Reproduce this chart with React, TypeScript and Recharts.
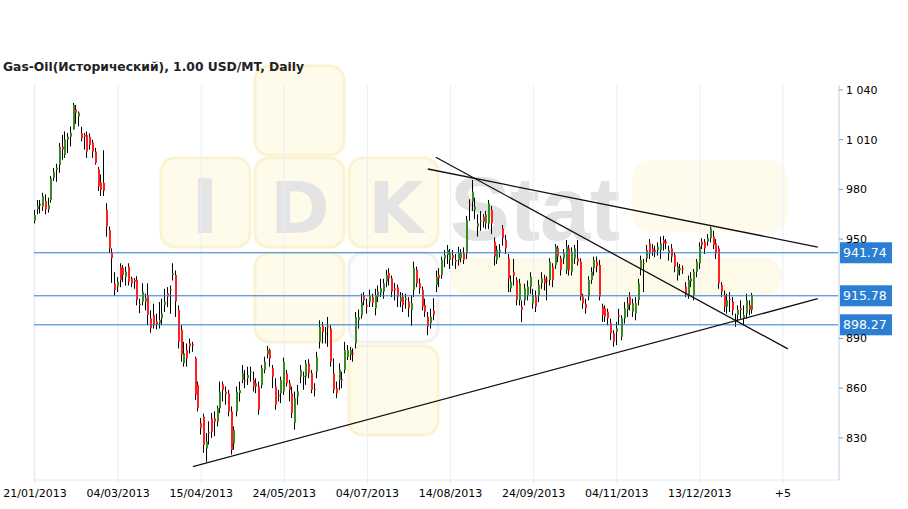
import React from 'react';
import { ComposedChart, Bar, XAxis, YAxis, CartesianGrid, ReferenceLine } from 'recharts';

const openP = [
  961, 968, 971, 969.6, 973, 968, 973.6, 987, 991.7, 994.7,
  1005.8, 1000.8, 1010, 1011.8, 1016.3, 1028.3, 1024, 1013.8, 1012.8, 1012.8,
  1011.8, 1008.4, 1002.8, 992, 984, 984, 967.6, 955.5, 941.8, 923,
  921.3, 933.4, 932.4, 927.3, 933.4, 926.3, 925.3, 925.3, 910.8, 912.3,
  912.3, 916.3, 902.2, 904.2, 900.2, 899.2, 902.2, 910.3, 917.3, 919.6,
  928.4, 928.4, 907.2, 895.2, 875.1, 883.1, 887.1, 886.5, 878.1, 862,
  838.8, 842.8, 823.7, 833.4, 841.8, 841.8, 839.8, 847.9, 862.4, 857.9,
  856.9, 845.9, 826.7, 845.9, 857, 865, 864.7, 866, 869.7, 865,
  863, 861, 862, 871, 880.5, 883, 872, 860.9, 855.9, 857,
  858, 869, 863, 857, 839, 855, 867, 867.5, 867, 875,
  869, 859.5, 870, 888, 897.5, 892.5, 897, 896, 869, 860,
  865, 865.4, 871, 879, 880, 881.3, 887, 901, 904, 916,
  910.3, 912, 915, 908.2, 915.3, 917.3, 918.3, 924.3, 929.4, 926.3,
  920.3, 920.9, 912.3, 915.3, 913.3, 912.3, 907.2, 919.3, 931.4, 923.3,
  919.3, 910.2, 903.2, 899.2, 906.8, 922.3, 928.3, 928.3, 938.4, 940.4,
  937.4, 940.4, 937.4, 937.4, 938.4, 941.4, 941.4, 970.9, 972.6, 967.6,
  957.5, 960.9, 963.6, 959.5, 959.5, 967.6, 948.5, 937.4, 942.4, 956.5,
  949.5, 938.4, 920.3, 930, 925.3, 913.2, 909.2, 913.2, 916.3, 921.3,
  911.2, 915.3, 916.3, 923.3, 926.3, 925.5, 925.3, 933.4, 934.4, 944.4,
  938.4, 938.4, 931.3, 944.4, 930.3, 938.4, 938.4, 936.4, 915.3, 910.8,
  915.3, 925.3, 932.4, 936.4, 934.4, 909.2, 908.2, 906.2, 899.2, 893.1,
  894.1, 904.2, 891.1, 902.2, 907.2, 915.3, 906.2, 905.2, 913.2, 932.4,
  935.5, 938.4, 947.4, 944.4, 943.4, 943.4, 943.4, 949.4, 948.4, 941.4,
  944.4, 940.4, 928.3, 932.4, 932.4, 921.3, 916.3, 924.3, 916.3, 930.3,
  935.4, 948.4, 948.4, 948.4, 950.5, 951.5, 947.4, 944.4, 922.3, 916.3,
  909.2, 913.9, 912.2, 901.3, 904.2, 908.2, 902.2, 905.2, 910.2, 907.2,
];

const highP = [
  967.6, 973.6, 973.6, 978, 977, 975, 988, 993, 995.5, 1008,
  1012.8, 1015, 1014, 1018, 1032.2, 1031, 1027, 1017.8, 1014, 1015,
  1013.8, 1010, 1005, 993.5, 989, 1003.6, 971.6, 957.5, 944.4, 930,
  927, 935.4, 934.4, 933.4, 935.4, 927.3, 926.5, 927.6, 914, 923.3,
  917, 923.3, 907, 911, 905, 912, 914, 920, 921, 922,
  935.4, 931, 910, 898, 888, 887, 890, 888, 879, 864,
  842, 844.6, 833, 840, 845, 846, 849.5, 864, 864, 861,
  859, 849, 837, 861, 864, 874, 871, 873, 873, 870,
  866, 864, 874, 879, 885.5, 884, 874, 866, 859, 867,
  878.5, 871, 865, 861, 858, 862, 874, 870, 877, 877.5,
  871, 863, 882, 901, 900, 897, 903, 898, 878, 864,
  875, 870, 888, 886, 885, 884, 906, 907.5, 917, 918,
  914, 919.5, 917, 920, 922, 926, 926, 931.4, 932.4, 928,
  923.5, 922.5, 918, 917.5, 917, 915, 916.3, 936.4, 933.4, 926.3,
  921.3, 914, 906, 908, 914.3, 931, 932.4, 939.4, 943.4, 946.4,
  944, 943.4, 941, 945.4, 944, 945, 964, 974, 985.7, 975,
  965, 967, 965, 967, 973.6, 970, 951, 946, 947, 958.5,
  952.5, 941, 928, 938, 927, 926, 913, 923, 925, 930,
  920, 919, 925.5, 930, 928.5, 927.5, 938.4, 935.4, 947, 946,
  940, 944, 949.4, 946.5, 945, 946.5, 949.4, 938.4, 917, 914,
  927.5, 933, 939.4, 939.5, 937.4, 911, 910, 908, 902, 895,
  900, 908, 904, 912, 915, 918, 914, 915, 926, 940,
  938, 946.5, 950, 947, 946, 948, 951.5, 952, 950, 946,
  947, 942, 936, 935, 934, 924, 928, 930, 932, 938,
  948, 950.5, 950, 953, 957.5, 955, 950, 946, 924, 919,
  917, 918, 915, 905, 910, 913, 910, 917, 913, 917.5,
];

const lowP = [
  959.5, 965, 965.5, 967, 965, 966, 972, 985, 984.6, 990,
  998, 999, 1002, 1006, 1016, 1019.5, 1018, 1009, 1004, 999,
  1004, 999, 995, 979, 976, 976, 951.5, 941.5, 923.6, 916,
  918, 921, 924, 922, 922, 921, 920, 910, 905.3, 910,
  907, 898, 893.5, 896, 895.5, 896, 898, 906, 909, 905,
  925, 903, 884, 876, 873, 873, 881, 882, 853, 846,
  832, 821, 815.5, 826, 830, 831, 837, 845, 852, 850,
  843, 820, 823, 843, 852, 863, 860, 862, 864, 858,
  857, 844, 860, 869, 878, 873, 860, 847, 852, 851,
  856, 861, 852, 842, 835, 850, 863, 859, 862, 866,
  857, 855, 866, 884, 887, 887, 885, 873, 857, 854,
  859, 860, 869, 877, 877, 876, 884, 896, 902, 910,
  905, 909, 909, 904, 912, 915, 914, 921, 922, 915,
  913, 909, 909, 906, 908, 903, 897.6, 915, 921, 917,
  907, 903, 892, 896, 901, 918, 921, 926, 933, 935,
  932, 934, 932, 934, 936, 935, 938, 961, 967, 962,
  951.5, 955, 957, 956, 956, 953, 934, 935, 939, 946,
  941, 918, 918, 922, 910, 910, 900, 910, 913, 917,
  908, 906, 912, 920, 919, 913, 922, 921, 932, 936,
  928, 935, 929, 928, 928, 935, 934, 913, 908, 905,
  913, 923, 928, 930, 913, 900, 900, 898, 889, 885,
  886, 898, 889, 899, 903, 907, 903, 901, 910, 928,
  918, 936, 938, 940, 939, 940, 938, 943, 944, 937,
  936, 930, 925, 928, 929, 915, 914, 921, 913, 927,
  932, 944, 941, 946, 948, 944, 938, 920, 915, 906,
  905, 906, 904, 897, 900, 902, 898, 902, 904, 905,
];

const closeP = [
  964.5, 970, 971, 976, 968, 970.6, 986.7, 990.7, 993, 1005.8,
  1004, 1010, 1011.8, 1014.2, 1031, 1026.3, 1026.3, 1010.8, 1011.8, 1002.8,
  1006.8, 1002.8, 996, 981.7, 979.6, 979.2, 957.5, 944.4, 938.4, 919.3,
  924.3, 925.3, 928.4, 930.4, 924.3, 923.3, 924.3, 913.3, 910.2, 918.3,
  914.3, 904.2, 896.2, 898.2, 898.2, 901.2, 905.2, 912.3, 915.3, 919.3,
  929.4, 912.3, 888.1, 880.1, 881.1, 878.1, 885.1, 885.7, 856, 848,
  835.8, 825.7, 827.7, 832.8, 833.8, 839.8, 847.9, 857.9, 859, 856.4,
  845.9, 822.7, 834.8, 857.9, 858.9, 868.9, 864.3, 868, 870.2, 861,
  861, 847, 872, 876, 883, 878, 867, 849.9, 855.3, 865,
  876, 863, 859, 845, 854, 858, 871, 867, 875, 869,
  859, 859, 879, 897, 894, 893, 897.3, 876, 859, 857,
  871.4, 864.6, 883, 883, 883, 880.5, 903, 903, 912, 913,
  909.3, 916, 911.6, 916.3, 918.3, 920.3, 923.3, 928.4, 926.3, 918.3,
  919.3, 915.3, 914.8, 910.2, 914.3, 908.2, 911.3, 932.4, 923.3, 920.3,
  909.2, 906.2, 897.2, 903.2, 904.2, 927.3, 926.3, 937.4, 940.4, 943.4,
  941.4, 938.4, 936.4, 941.4, 941.4, 937.4, 961.5, 970.5, 978.6, 969.6,
  959.5, 961.2, 960.5, 964.6, 971.6, 959.5, 939.4, 943.4, 943.4, 950.5,
  944.4, 926.3, 924.3, 928, 913.2, 923.3, 907.2, 920.3, 921.3, 927.3,
  916.3, 909.2, 922.3, 926.3, 923.3, 925, 936.4, 925.3, 945.4, 939.4,
  931.3, 941.4, 945.4, 931.3, 942.4, 944.4, 936.4, 915.3, 911.2, 908.2,
  925.3, 930.3, 937.4, 933.4, 915.3, 904.2, 903.2, 902.2, 893.1, 888.1,
  896.1, 903.2, 902.2, 908.2, 911.2, 910.2, 911.2, 911.2, 923.3, 937.4,
  935.2, 943.4, 941.4, 942.4, 942.4, 945.4, 947.4, 947.4, 947.4, 943.4,
  939.4, 933.4, 933.4, 931.3, 932.2, 917.3, 925.3, 926.3, 930.3, 936.4,
  945.4, 946.4, 944.4, 950.5, 956.5, 946.4, 941.4, 923.3, 918.3, 909.2,
  913.2, 913.7, 907.2, 901.1, 907.2, 907.2, 904.2, 913.2, 907.2, 916.3,
];

const xTickIdx = [0, 30, 60, 90, 120, 150, 180, 210, 240, 270];
const xTickLabels = ['21/01/2013', '04/03/2013', '15/04/2013', '24/05/2013', '04/07/2013', '14/08/2013', '24/09/2013', '04/11/2013', '13/12/2013', '+5'];
const yTicks = [830, 860, 890, 950, 980, 1010, 1040];
const levels = [941.74, 915.78, 898.27];
const levelLabels = ['941.74', '915.78', '898.27'];
const trendStart = [[144.7, 999.4], [141.8, 992.3], [57.0, 812.7]];
const trendEnd = [[271.8, 883.7], [282.6, 945.2], [282.6, 914.0]];

const data = openP.map((o, i) => ({ i, o, h: highP[i], l: lowP[i], c: closeP[i], hl: [lowP[i], highP[i]] }));

const GREEN = '#3a8a22';
const RED = '#ff2020';
const FONT = '"DejaVu Sans", Verdana, sans-serif';

const Candle = (props: any) => {
  const { x, y, width, height, payload } = props;
  if (!payload || height == null) return null;
  const { o, h, l, c } = payload;
  const cx = Math.round(x + width / 2);
  const ppu = height / (h - l);
  const yo = y + (h - o) * ppu;
  const yc = y + (h - c) * ppu;
  const top = Math.min(yo, yc);
  const bh = Math.max(1, Math.abs(yc - yo));
  const color = c > o ? GREEN : c < o ? RED : '#000';
  return (
    <g>
      <rect x={cx - 1} y={y} width={1} height={height} fill="#000" />
      <rect x={cx - 1} y={top} width={2} height={bh} fill={color} />
    </g>
  );
};

const PriceTag = (props: any) => {
  const { viewBox, text } = props;
  if (!viewBox) return null;
  const { x, y, width } = viewBox;
  const left = x + width + 1;
  return (
    <g>
      <rect x={left} y={y - 10.5} width={52} height={21} fill="#2b7ed2" />
      <text x={left + 3} y={y + 4.5} fill="#fff" fontSize={12.5} fontFamily={FONT}>{text}</text>
    </g>
  );
};

const fmtY = (v: number) => String(v).replace(/\B(?=(\d{3})+(?!\d))/g, ' ');

const sq = { fill: '#fefbea', stroke: '#faf3d2', strokeWidth: 3 };

const Watermark = () => (
  <svg width={908} height={509} style={{ position: 'absolute', left: 0, top: 0 }}>
    <rect x={255} y={66} width={89} height={89} rx={14} {...sq} />
    <rect x={161} y={158} width={89} height={89} rx={14} {...sq} />
    <rect x={255} y={158} width={89} height={89} rx={14} {...sq} />
    <rect x={349} y={158} width={89} height={89} rx={14} {...sq} />
    <rect x={632} y={160} width={156} height={72} rx={20} fill="#fefbec" />
    <rect x={255} y={253} width={89} height={89} rx={14} {...sq} />
    <rect x={349} y={253} width={89} height={89} rx={14} fill="#fdfdfd" stroke="#f1f1f1" strokeWidth={3} />
    <rect x={450} y={258} width={332} height={38} rx={18} fill="#fefaea" />
    <rect x={349} y={346} width={89} height={89} rx={14} {...sq} />
    <g fill="#e4e4e4" fontFamily='"DejaVu Sans", sans-serif' fontWeight="bold" textAnchor="middle">
      <text x={205} y={233} fontSize={74}>I</text>
      <text x={300} y={233} fontSize={72}>D</text>
      <text x={396} y={233} fontSize={72}>K</text>
    </g>
    <text x={450} y={240} fontSize={90} fontFamily='"Liberation Sans", Arial, sans-serif' fontWeight="bold" fill="#e2e2e2">Stat</text>
  </svg>
);

export default function App() {
  return (
    <div style={{ position: 'absolute', left: 0, top: 0, width: 908, height: 509, background: '#fff', overflow: 'hidden' }}>
      <Watermark />
      <div style={{ position: 'absolute', left: 3, top: 60, fontFamily: FONT, fontWeight: 'bold', fontSize: 12.3, color: '#222', whiteSpace: 'nowrap' }}>
        Gas-Oil(Исторический), 1.00 USD/MT, Daily
      </div>
      <div style={{ position: 'absolute', left: 0, top: 0 }}>
        <ComposedChart width={908} height={509} data={data} margin={{ top: 85, right: 0, bottom: 0, left: 34 }}>
          <CartesianGrid horizontal={false} stroke="#e8eff7" />
          <XAxis
            dataKey="i"
            type="number"
            domain={[-0.36, 290.25]}
            allowDataOverflow
            ticks={xTickIdx}
            interval={0}
            tickFormatter={(v: number) => xTickLabels[xTickIdx.indexOf(v)] ?? ''}
            height={29}
            axisLine={{ stroke: '#dde8f3' }}
            tickLine={{ stroke: '#dde8f3' }}
            tickSize={3}
            tickMargin={6}
            tick={{ fill: '#000', fontSize: 11, fontFamily: FONT }}
          />
          <YAxis
            orientation="right"
            type="number"
            domain={[804.6, 1043]}
            allowDataOverflow
            ticks={yTicks}
            interval={0}
            width={69}
            tickFormatter={fmtY}
            axisLine={{ stroke: '#dae7f3', strokeWidth: 2 }}
            tickLine={{ stroke: '#999' }}
            tickSize={4}
            tickMargin={3}
            tick={{ fill: '#000', fontSize: 11, fontFamily: FONT }}
          />
          <Bar dataKey="hl" barSize={3} isAnimationActive={false} shape={(p: any) => <Candle {...p} />} />
          {levels.map((lv, k) => (
            <ReferenceLine
              key={'lv' + k}
              y={lv}
              stroke="#2a7bd0"
              strokeWidth={1}
              label={(p: any) => <PriceTag {...p} text={levelLabels[k]} />}
            />
          ))}
          {trendStart.map((s, k) => (
            <ReferenceLine
              key={'tr' + k}
              segment={[{ x: s[0], y: s[1] }, { x: trendEnd[k][0], y: trendEnd[k][1] }]}
              stroke="#111"
              strokeWidth={1.3}
              ifOverflow="visible"
            />
          ))}
        </ComposedChart>
      </div>
    </div>
  );
}
